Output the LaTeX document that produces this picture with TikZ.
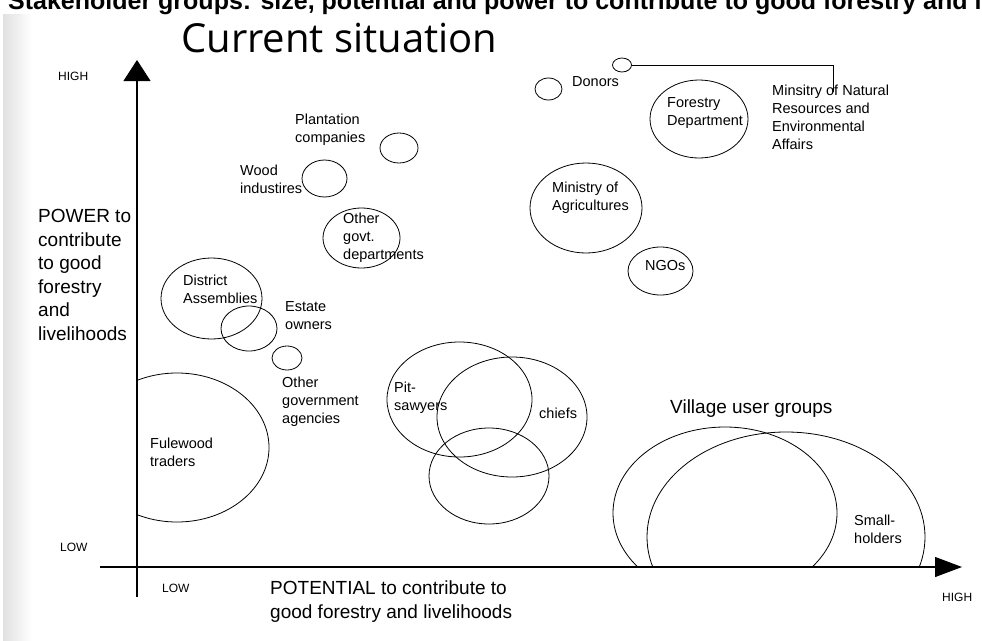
\documentclass[tikz,border=0pt]{standalone}
\usepackage{fontspec}
\setmainfont{Liberation Sans}
\newfontfamily\titlefont{Open Sans}
\usetikzlibrary{shapes.geometric,arrows.meta}
\begin{document}
\begin{tikzpicture}[x=1pt,y=-1pt,
  stake/.style={draw, ellipse, inner sep=0pt, line width=0.8pt},
  lbl/.style={inner sep=0pt, anchor=west, align=left, font=\fontsize{14.5}{18}\selectfont},
  biglbl/.style={inner sep=0pt, anchor=west, align=left, font=\fontsize{19}{23.5}\selectfont},
  axlbl/.style={inner sep=0pt, anchor=west, font=\fontsize{12}{14}\selectfont},
  axisline/.style={line width=1.1pt}]
\useasboundingbox (0,0) rectangle (982,640);
% scan shadow on the left edge
\shade[left color=black!12, right color=white] (3,14) rectangle (32,640);
% cut-off heading
\begin{scope}
\clip (0,0) rectangle (982,640);
\node[inner sep=0pt, anchor=base west, font=\bfseries\fontsize{25}{28}\selectfont] (heading) at (8,9.5)
  {Stakeholder groups: size, potential and power to contribute to good forestry and livelihoods};
\end{scope}
% title
\node[inner sep=0pt, anchor=base west, font=\titlefont\fontsize{40}{44}\selectfont] (title) at (181,52) {Current situation};

% axes
\coordinate (vbot) at (137,597);
\coordinate (vtop) at (137,60);
\coordinate (hleft) at (100,567);
\coordinate (hright) at (962,567);
\draw[axisline, -{Triangle[width=27pt,length=21pt]}] (vbot) -- (vtop);
\draw[axisline, -{Triangle[width=20pt,length=27pt]}] (hleft) -- (hright);

\node[axlbl] (highy) at (58,76) {HIGH};
\node[axlbl] (lowy) at (60,547) {LOW};
\node[axlbl] (lowx) at (162,588) {LOW};
\node[axlbl] (highx) at (942,597) {HIGH};

\node[biglbl] (power) at (38,275) {POWER to\\contribute\\to good\\forestry\\and\\livelihoods};
\node[biglbl] (potential) at (270,601.5) {POTENTIAL to contribute to\\good forestry and livelihoods};

% stakeholder ellipses
\node[stake, minimum width=19pt, minimum height=14pt] (mnreC) at (622,65) {};
\node[stake, minimum width=27pt, minimum height=22pt] (donorsC) at (548.5,89) {};
\node[stake, minimum width=98pt, minimum height=78pt] (forestryC) at (699,119) {};
\node[stake, minimum width=112pt, minimum height=90pt] (moaC) at (586,208) {};
\node[stake, minimum width=65pt, minimum height=48pt] (ngosC) at (660.5,271) {};
\node[stake, minimum width=38pt, minimum height=30pt] (plantC) at (399,148) {};
\node[stake, minimum width=45pt, minimum height=37pt] (woodC) at (324.5,178.5) {};
\node[stake, minimum width=77pt, minimum height=60pt] (ogdC) at (361.5,238) {};
\node[stake, minimum width=101pt, minimum height=81pt] (districtC) at (211.5,298.5) {};
\node[stake, minimum width=56pt, minimum height=45pt] (estateC) at (249,328.5) {};
\node[stake, minimum width=30pt, minimum height=24pt] (ogaC) at (287,358) {};
\node[stake, minimum width=145pt, minimum height=115pt] (pitC) at (459.5,399.5) {};
\node[stake, minimum width=150pt, minimum height=120pt] (chiefsC) at (512,417) {};
\node[stake, minimum width=120pt, minimum height=96pt] (thirdC) at (489,476) {};
\begin{scope}
\clip (137,0) rectangle (982,640);
\node[stake, minimum width=184pt, minimum height=149pt] (fuleC) at (177,447.5) {};
\end{scope}
\begin{scope}
\clip (0,0) rectangle (982,567);
\node[stake, minimum width=224pt, minimum height=172pt] (villageC) at (725,513) {};
\node[stake, minimum width=278pt, minimum height=210pt] (smallC) at (786,537) {};
\end{scope}

% connector to the ministry label
\coordinate (mnrEnd) at (833,92);
\draw[line width=0.8pt] (mnreC.east) -| (mnrEnd);

% labels
\node[lbl] (donorsL) at (572,82) {Donors};
\node[lbl] (forestryL) at (667,113.5) {Forestry\\Department};
\node[lbl] (mnreL) at (772,117) {Minsitry of Natural\\Resources and\\Environmental\\Affairs};
\node[lbl] (moaL) at (552,197.5) {Ministry of\\Agricultures};
\node[lbl] (ngosL) at (645,266) {NGOs};
\node[lbl] (plantL) at (295,129.5) {Plantation\\companies};
\node[lbl] (woodL) at (240,179) {Wood\\industires};
\node[lbl] (ogdL) at (343,237.5) {Other\\govt.\\departments};
\node[lbl] (districtL) at (183,289.5) {District\\Assemblies};
\node[lbl] (estateL) at (285,316) {Estate\\owners};
\node[lbl] (ogaL) at (282,401.5) {Other\\government\\agencies};
\node[lbl] (fuleL) at (150,452) {Fulewood\\traders};
\node[lbl] (pitL) at (394,397.5) {Pit-\\sawyers};
\node[lbl] (chiefsL) at (539,413) {chiefs};
\node[lbl] (smallL) at (854,529) {Small-\\holders};
\node[biglbl] (villageL) at (670,409) {Village user groups};
\end{tikzpicture}
\end{document}
